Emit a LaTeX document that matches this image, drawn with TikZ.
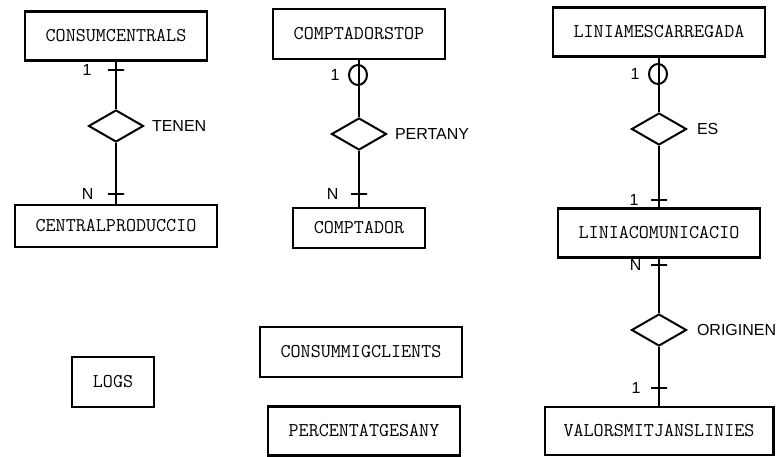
\documentclass[tikz,border=0pt]{standalone}
\usepackage{fontspec}
\setmainfont{Liberation Sans}
\usetikzlibrary{shapes.geometric}
\tikzset{
	entity/.style={draw, line width=2.2pt, font=\ttfamily\fontsize{19.5}{22}\selectfont, inner xsep=21pt, minimum height=49pt},
	relation/.style={draw, diamond, line width=2pt, minimum width=55pt, minimum height=32pt, inner sep=0pt},
	tickmark/.style={draw, line width=2pt, minimum width=16pt, minimum height=0pt, inner sep=0pt},
	ring/.style={draw, ellipse, line width=2pt, minimum width=18pt, minimum height=20pt, inner sep=0pt},
	card/.style={font=\fontsize{16}{18}\selectfont},
	conn/.style={line width=2pt},
}
\begin{document}
\begin{tikzpicture}[x=1pt,y=-1pt]
		\useasboundingbox (0,0) rectangle (778,457);
		% first column
		\node[entity] (consum) at (116,36) {CONSUMCENTRALS};
		\node[relation, label={[card,label distance=4pt]right:TENEN}] (tenen) at (116,126) {};
		\node[entity, minimum height=42pt] (central) at (116,226) {CENTRALPRODUCCIO};
		\node[tickmark, label={[card,label distance=12pt]left:1}] (t1) at (116,70) {};
		\node[tickmark, label={[card,label distance=10pt]left:N}] (t2) at (116,194) {};
		\draw[conn] (consum) -- (tenen) -- (central);
		% second column
		\node[entity, minimum height=50pt] (stop) at (359,34) {COMPTADORSTOP};
		\node[relation, label={[card,label distance=4pt]right:PERTANY}] (pertany) at (359,134) {};
		\node[entity, minimum height=40pt] (comptador) at (359,228) {COMPTADOR};
		\node[ring, label={[card,label distance=5pt]left:1}] (o1) at (358,75) {};
		\node[tickmark, label={[card,label distance=8pt]left:N}] (t3) at (359,194) {};
		\draw[conn] (stop) -- (pertany) -- (comptador);
		% third column
		\node[entity] (liniames) at (659,32) {LINIAMESCARREGADA};
		\node[relation, label={[card,label distance=6pt]right:ES}] (es) at (659,129) {};
		\node[entity] (liniacom) at (659,233) {LINIACOMUNICACIO};
		\node[relation, label={[card,label distance=6pt]right:ORIGINEN}] (originen) at (659,330) {};
		\node[entity, minimum height=48pt, inner xsep=19pt] (valors) at (659,431) {VALORSMITJANSLINIES};
		\node[ring, label={[card,label distance=5pt]left:1}] (o2) at (658,74) {};
		\node[tickmark, label={[card,label distance=8pt]left:1}] (t4) at (659,200) {};
		\node[tickmark, label={[card,label distance=5pt]left:N}] (t5) at (659,265) {};
		\node[tickmark, label={[card,label distance=6pt]left:1}] (t6) at (659,388) {};
		\draw[conn] (liniames) -- (es) -- (liniacom) -- (originen) -- (valors);
		% loose tables
		\node[entity, minimum height=50pt] (logs) at (113,382) {LOGS};
		\node[entity, minimum height=50pt] (consummig) at (361,352) {CONSUMMIGCLIENTS};
		\node[entity] (percent) at (364,431) {PERCENTATGESANY};
\end{tikzpicture}
\end{document}
